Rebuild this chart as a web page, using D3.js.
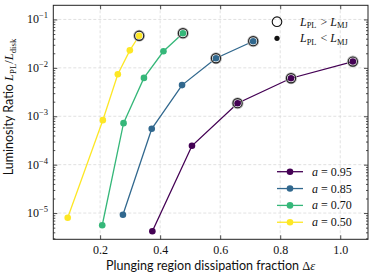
<!DOCTYPE html>
<html><head><meta charset="utf-8">
<script src="https://cdn.jsdelivr.net/npm/d3@7"></script>
<style>body{margin:0;background:#fff}svg{display:block}</style>
</head><body>
<script>
const spins = ["0.95", "0.85", "0.70", "0.50"];
const colors = ["#440154", "#31688e", "#35b779", "#fde725"];
const dx95 = [0.374, 0.506, 0.658, 0.836, 1.042];
const lr95 = [4.2e-6, 2.45e-4, 1.86e-3, 6.1e-3, 1.35e-2];
const mj95 = [0, 0, 1, 1, 1];
const dx85 = [0.276, 0.372, 0.473, 0.586, 0.710];
const lr85 = [9.2e-6, 5.5e-4, 4.4e-3, 1.58e-2, 3.55e-2];
const mj85 = [0, 0, 0, 1, 1];
const dx70 = [0.207, 0.278, 0.346, 0.411, 0.476];
const lr70 = [5.6e-6, 7.2e-4, 6.2e-3, 2.2e-2, 5.2e-2];
const mj70 = [0, 0, 0, 0, 1];
const dx50 = [0.092, 0.209, 0.259, 0.299, 0.330];
const lr50 = [8.0e-6, 8.3e-4, 7.4e-3, 2.3e-2, 4.6e-2];
const mj50 = [0, 0, 0, 0, 1];
const xTicks = [0.2, 0.4, 0.6, 0.8, 1.0];
const yTicks = [-5, -4, -3, -2, -1];

const series = [
  {spin: spins[0], color: colors[0], x: dx95, y: lr95, mj: mj95},
  {spin: spins[1], color: colors[1], x: dx85, y: lr85, mj: mj85},
  {spin: spins[2], color: colors[2], x: dx70, y: lr70, mj: mj70},
  {spin: spins[3], color: colors[3], x: dx50, y: lr50, mj: mj50},
];

const W = 374, H = 278;
const m = {l: 53.3, r: 368, t: 5.3, b: 239.3};
const svg = d3.select("body").append("svg").attr("width", W).attr("height", H);
const x = d3.scaleLinear().domain([0.044, 1.0925]).range([m.l, m.r]);
const y = d3.scaleLog().domain([2.87e-6, 0.196]).range([m.b, m.t]);

const serif = "'Liberation Serif', 'DejaVu Serif', serif";
const sans = "Lato, 'Open Sans', 'DejaVu Sans', sans-serif";

// grid
const g = svg.append("g");
g.selectAll(".gx").data(xTicks).join("line")
  .attr("x1", d => x(d)).attr("x2", d => x(d)).attr("y1", m.t).attr("y2", m.b)
  .attr("stroke", "#d9d9d9").attr("stroke-width", 0.8).attr("stroke-dasharray", "3,2");
g.selectAll(".gy").data(yTicks).join("line")
  .attr("y1", d => y(Math.pow(10, d))).attr("y2", d => y(Math.pow(10, d))).attr("x1", m.l).attr("x2", m.r)
  .attr("stroke", "#d9d9d9").attr("stroke-width", 0.8).attr("stroke-dasharray", "3,2");

// axes with inward ticks
const axB = d3.axisBottom(x).tickValues(xTicks).tickSize(-4).tickFormat(d3.format(".1f"));
const axT = d3.axisTop(x).tickValues(xTicks).tickSize(-4).tickFormat("");
const minors = [];
for (let e = -6; e <= -1; e++) for (let k = 2; k <= 9; k++) {
  const v = k * Math.pow(10, e);
  if (v >= 2.87e-6 && v <= 0.196) minors.push(v);
}
const majors = yTicks.map(d => Math.pow(10, d));
const axL = d3.axisLeft(y).tickValues(majors).tickSize(-4).tickFormat("");
const axR = d3.axisRight(y).tickValues(majors).tickSize(-4).tickFormat("");
const axLm = d3.axisLeft(y).tickValues(minors).tickSize(-2).tickFormat("");
const axRm = d3.axisRight(y).tickValues(minors).tickSize(-2).tickFormat("");

function styleAx(sel) {
  sel.select(".domain").remove();
  sel.selectAll("line").attr("stroke", "#222").attr("stroke-width", 0.8);
  sel.selectAll("text").attr("font-family", serif).attr("font-size", 12).attr("fill", "#111");
}
svg.append("g").attr("transform", `translate(0,${m.b})`).call(axB).call(styleAx)
  .selectAll("text").attr("dy", "0.9em").attr("y", 4);
svg.append("g").attr("transform", `translate(0,${m.t})`).call(axT).call(styleAx);
svg.append("g").attr("transform", `translate(${m.l},0)`).call(axL).call(styleAx);
svg.append("g").attr("transform", `translate(${m.r},0)`).call(axR).call(styleAx);
svg.append("g").attr("transform", `translate(${m.l},0)`).call(axLm).call(styleAx);
svg.append("g").attr("transform", `translate(${m.r},0)`).call(axRm).call(styleAx);

// y tick labels 10^n
yTicks.forEach(e => {
  const t = svg.append("text").attr("x", 48).attr("y", y(Math.pow(10, e)) + 4)
    .attr("text-anchor", "end").attr("font-family", serif).attr("font-size", 12).attr("fill", "#111");
  t.append("tspan").text("10");
  t.append("tspan").attr("dy", -5).attr("font-size", 8.5).text("\u2212" + (-e));
});

// frame
svg.append("rect").attr("x", m.l).attr("y", m.t).attr("width", m.r - m.l).attr("height", m.b - m.t)
  .attr("fill", "none").attr("stroke", "#222").attr("stroke-width", 1);

// data
const line = d3.line().x(d => x(d[0])).y(d => y(d[1]));
series.forEach(s => {
  const pts = s.x.map((v, i) => [v, s.y[i], s.mj[i]]);
  svg.append("path").datum(pts).attr("d", line).attr("fill", "none")
    .attr("stroke", s.color).attr("stroke-width", 1.3);
  svg.selectAll(null).data(pts).join("circle")
    .attr("cx", d => x(d[0])).attr("cy", d => y(d[1])).attr("r", 3.3).attr("fill", s.color);
  svg.selectAll(null).data(pts.filter(d => d[2])).join("circle")
    .attr("cx", d => x(d[0])).attr("cy", d => y(d[1])).attr("r", 4.9)
    .attr("fill", "none").attr("stroke", "#bbb").attr("stroke-width", 2.2);
  svg.selectAll(null).data(pts.filter(d => d[2])).join("circle")
    .attr("cx", d => x(d[0])).attr("cy", d => y(d[1])).attr("r", 4.6)
    .attr("fill", "none").attr("stroke", "#222").attr("stroke-width", 1.1);
});

// math helper
function mathL(t, sub) {
  t.append("tspan").attr("font-style", "italic").text("L");
  t.append("tspan").attr("font-size", "0.7em").attr("dy", 2.5).text(sub);
  t.append("tspan").attr("dy", -2.5).text("\u200A");
}

// top legend
svg.append("circle").attr("cx", 277).attr("cy", 21.7).attr("r", 4.8).attr("fill", "none")
  .attr("stroke", "#111").attr("stroke-width", 1.1);
svg.append("circle").attr("cx", 277).attr("cy", 38.3).attr("r", 2.6).attr("fill", "#111");
[[21.7, " > "], [38.3, " < "]].forEach(([yy, op]) => {
  const t = svg.append("text").attr("x", 300).attr("y", yy + 4).attr("font-family", serif)
    .attr("font-size", 12).attr("fill", "#111");
  mathL(t, "PL");
  t.append("tspan").text(op);
  mathL(t, "MJ");
});

// spin legend
series.forEach((s, i) => {
  const yy = 171.7 + i * 16.85;
  svg.append("line").attr("x1", 277).attr("x2", 303).attr("y1", yy).attr("y2", yy)
    .attr("stroke", s.color).attr("stroke-width", 1.3);
  svg.append("circle").attr("cx", 290).attr("cy", yy).attr("r", 3.3).attr("fill", s.color);
  const t = svg.append("text").attr("x", 312).attr("y", yy + 4).attr("font-family", serif)
    .attr("font-size", 12).attr("fill", "#111");
  t.append("tspan").attr("font-style", "italic").text("a");
  t.append("tspan").text(" = " + s.spin);
});

// axis labels
const xl = svg.append("text").attr("x", (m.l + m.r) / 2).attr("y", 270).attr("text-anchor", "middle")
  .attr("font-family", sans).attr("font-size", 12.5).attr("fill", "#111");
xl.append("tspan").text("Plunging region dissipation fraction ");
xl.append("tspan").attr("font-family", serif).text("\u0394");
xl.append("tspan").attr("font-family", serif).attr("font-style", "italic").text("\u03B5");

const yl = svg.append("text").attr("transform", `translate(13,107) rotate(-90)`).attr("text-anchor", "middle")
  .attr("font-family", sans).attr("font-size", 12.5).attr("fill", "#111");
yl.append("tspan").text("Luminosity Ratio ");
const ym = yl.append("tspan").attr("font-family", serif);
ym.append("tspan").attr("font-style", "italic").text("L");
ym.append("tspan").attr("font-size", "0.7em").attr("dy", 2.5).text("PL");
ym.append("tspan").attr("dy", -2.5).text("/");
ym.append("tspan").attr("font-style", "italic").text("L");
ym.append("tspan").attr("font-size", "0.7em").attr("dy", 2.5).text("disk");
</script>
</body></html>
